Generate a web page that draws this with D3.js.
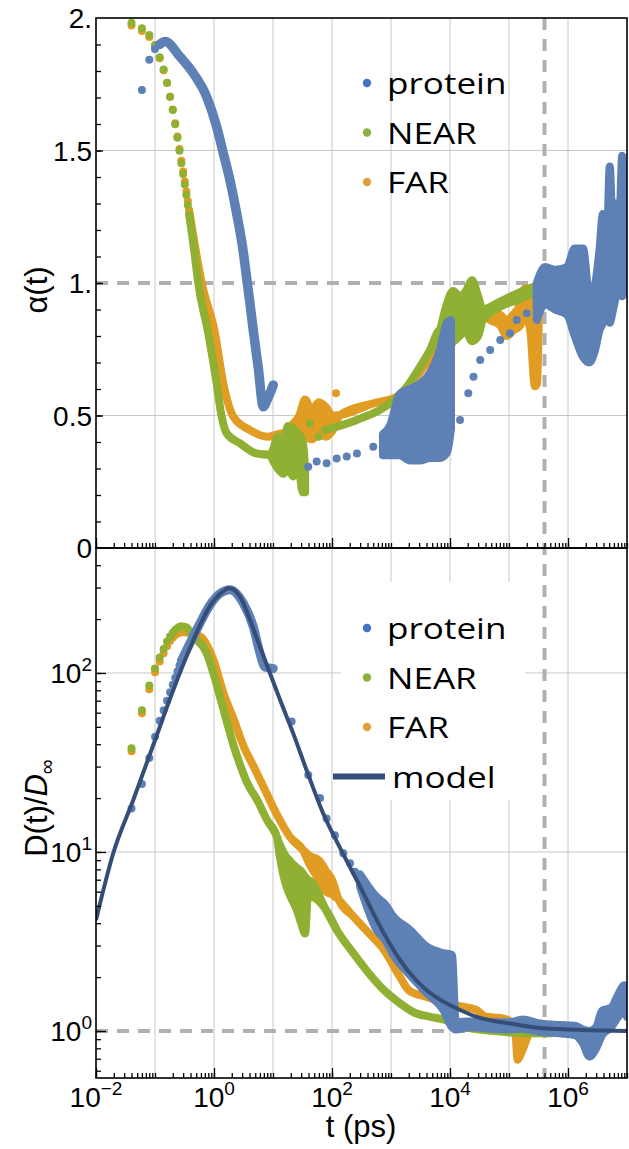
<!DOCTYPE html>
<html>
<head>
<meta charset="utf-8">
<script src="https://cdn.jsdelivr.net/npm/d3@7"></script>
<style>
  body { margin: 0; background: #fff; }
  text { font-family: "Liberation Sans", Arial, sans-serif; fill: #000; }
</style>
</head>
<body>
<svg id="chart" width="629" height="1149"></svg>
<script>
'use strict';

// ---- data: top panel, alpha(t) ----
// early sparse points [t (ps), alpha]
const nearAlphaDots = [[0.04,1.982],[0.06,1.961],[0.08,1.936],[0.10,1.898],[0.12,1.852],[0.14,1.806],[0.16,1.756],[0.18,1.703],[0.20,1.653],[0.22,1.599],[0.24,1.548],[0.26,1.499],[0.28,1.452],[0.30,1.411],[0.32,1.372],[0.34,1.332],[0.36,1.294],[0.38,1.257],[42,0.47],[59,0.42]];
const farAlphaDots = [[0.04,1.972],[0.06,1.951],[0.08,1.928],[0.10,1.892],[0.12,1.848],[0.14,1.803],[0.16,1.755],[0.18,1.703],[0.20,1.655],[0.22,1.603],[0.24,1.553],[0.26,1.506],[0.28,1.461],[0.30,1.421],[0.32,1.383],[0.34,1.345],[0.36,1.309],[0.38,1.274],[117,0.584]];
const proteinAlphaDots = [[0.06,1.728],[0.08,1.842],[0.10,1.883],[39.6,0.307],[55,0.326],[81,0.32],[120,0.338],[178,0.345],[265,0.357],[500,0.382],[14800,0.483],[20400,0.584],[25000,0.646],[32500,0.709],[48000,0.747],[71000,0.785],[104000,0.81],[135000,0.86],[200000,0.886]];

// dense parts [t, value] or [t, low, high]
const nearAlphaA = [[0.38,1.257],[0.46,1.125],[0.54,1.0],[0.8,0.81],[1.11,0.62],[1.35,0.495],[1.64,0.433],[2.75,0.395],[5.2,0.357],[8.9,0.351],[10,0.33,0.37],[12,0.30,0.42],[15,0.28,0.40],[18,0.30,0.46],[22,0.27,0.45],[27,0.30,0.43],[32,0.21,0.40],[35,0.21,0.30]];
const nearAlphaB = [[76,0.445],[263,0.483],[955,0.546],[1860,0.609],[3100,0.684],[4570,0.747],[6760,0.823],[8800,0.80,0.92],[11300,0.78,0.97],[14600,0.80,0.95],[18600,0.82,0.97],[23600,0.78,1.01],[30000,0.80,0.95],[36000,0.86,0.90],[70300,0.91,0.93],[135000,0.935,0.96],[258000,0.96,0.985],[495000,0.98,1.0],[1.07e6,0.995,1.015]];
const farAlphaA = [[0.38,1.274],[0.46,1.16],[0.62,1.0],[1.04,0.81],[1.44,0.62],[2.14,0.495],[4.07,0.445],[7.8,0.42],[14.8,0.433],[20,0.42,0.46],[28,0.41,0.50],[35,0.42,0.56],[45,0.41,0.52],[60,0.43,0.55],[80,0.42,0.53],[100,0.44,0.50],[138,0.502],[500,0.546],[1260,0.571],[3000,0.66],[6000,0.74],[10000,0.76],[14000,0.82],[24000,0.86],[36000,0.88,0.90],[48000,0.86,0.90],[71000,0.84,0.88],[91000,0.80,0.86],[117000,0.82,0.88],[155000,0.84,0.92],[186000,0.88,0.98],[229000,0.82,0.98],[275000,0.61,0.92],[300000,0.62,0.98],[330000,0.95,1.0],[500000,0.99],[1.07e6,1.005]];
const proteinAlphaA = [[0.12,1.90],[0.148,1.911],[0.265,1.854],[0.447,1.791],[0.75,1.703],[1.11,1.59],[1.44,1.489],[1.86,1.389],[2.42,1.263],[3.16,1.112],[3.55,1.024],[4.0,0.936],[4.7,0.81],[5.6,0.684],[6.85,0.533],[8.0,0.56],[10.1,0.615]];
const proteinAlphaB = [[730,0.35,0.43],[955,0.35,0.46],[1400,0.35,0.58],[2090,0.33,0.60],[3100,0.33,0.62],[4570,0.34,0.66],[6760,0.34,0.75],[8900,0.36,0.85],[10400,0.45,0.86]];
const proteinAlphaC = [[295000,0.86,1.0],[410000,0.92,1.06],[600000,0.90,1.05],[960000,0.88,1.06],[1.3e6,0.80,1.13],[1.8e6,0.72,1.13],[2.3e6,0.70,0.95],[2.9e6,0.75,1.0],[3.4e6,0.82,1.12],[3.9e6,0.85,1.26],[4.5e6,0.92,1.10],[5.1e6,0.85,1.44],[5.8e6,0.90,1.16],[6.5e6,0.95,1.30],[7.3e6,1.0,1.18],[8.3e6,0.95,1.48],[9.2e6,1.0,1.26],[1e7,1.0,1.4]];

// ---- data: bottom panel, D(t)/D_inf ----
const nearDDots = [[0.04,38],[0.06,62],[0.08,85],[0.10,106],[0.12,122],[0.14,136],[0.16,150],[0.18,160],[0.20,168],[0.22,174],[0.24,178],[0.26,181],[0.28,182]];
const farDDots = [[0.04,36.5],[0.06,59.5],[0.08,81],[0.10,101],[0.12,116],[0.14,129],[0.16,141],[0.18,151],[0.20,158],[0.22,163],[0.24,166],[0.26,168],[0.28,170]];
const proteinDDots = [[0.04,17.5],[0.06,24],[0.08,33.5],[0.10,44],[0.12,54],[0.14,62],[0.16,70],[0.18,78],[0.20,86],[0.22,94],[0.24,102],[0.26,110],[0.28,117],[20.7,53.5],[39.6,26.9],[62.7,20],[81,15.4],[112,12.4],[155,9.84],[202,8.65],[245,7.76]];

const nearD = [[0.28,182],[0.33,181],[0.447,160],[0.75,129],[0.98,99.5],[1.3,71],[1.69,52],[2.18,38.7],[2.84,30],[3.68,24.2],[5.4,19.5],[7.9,15.1],[11.6,12.2],[13,9.5,11],[16,6.8,9.6],[20,5.6,8.8],[25,4.8,8.2],[30,4.0,7.8],[35,3.5,7.3],[39,5.6,7.0],[45,5.6,6.8],[76,4.85],[130,3.52],[230,2.72],[420,2.1],[760,1.69],[1410,1.43],[2560,1.26],[4660,1.2],[8500,1.15],[15600,1.057],[57000,1.0],[210000,0.97],[520000,0.97]];
const farD = [[0.28,170],[0.58,160],[0.98,118],[1.45,77],[2.18,54.6],[3.2,38.7],[4.7,30],[6.85,23.2],[11.4,16.4],[19.2,12.2],[32,10.3],[42,8.5,9.5],[60,7.0,9.0],[80,6.0,7.8],[100,5.8,7.0],[130,5.4],[230,4.36],[420,3.52],[760,2.84],[1410,2.01],[2000,1.69],[4000,1.55],[8500,1.43],[15600,1.37],[28000,1.31],[40000,1.2],[75000,1.18],[120000,1.1],[130000,0.93,1.12],[140000,0.69,1.1],[160000,0.75,1.05],[250000,1.02],[520000,1.0]];
const proteinDA = [[0.28,117],[0.58,190],[0.855,240],[1.26,278],[1.87,292],[3.14,245],[4.64,181],[6.0,129],[7.3,108],[10.1,106]];
const proteinDB = [[300,6.4,7.5],[573,3.67,5.6],[810,3.2,5.06],[1100,2.66,4.35],[2100,2.05,3.67],[4030,1.63,2.96],[7700,1.31,2.72],[10800,1.05,2.66],[12500,1.02,1.12],[21600,1.05,1.13],[47000,1.03,1.12],[104000,1.02,1.12],[170000,1.03,1.16],[330000,0.99,1.1],[710000,0.97,1.08],[1.3e6,0.95,1.07],[1.8e6,0.85,1.02],[2.3e6,0.72,1.0],[3e6,0.8,1.05],[3.8e6,0.95,1.3],[5.4e6,1.05,1.35],[7.1e6,1.2,1.6],[9e6,1.3,1.8],[1e7,1.2,1.5]];

const model = [[0.01,4.17],[0.0196,9.84],[0.0428,19.5],[0.0935,39.6],[0.204,80.4],[0.392,138],[0.58,185],[0.855,237],[1.26,276],[1.8,297],[2.76,267],[4.07,198],[6.0,140],[8.9,99.5],[13.2,70.6],[22,46],[37,28.7],[71,16.4],[146,10.1],[300,6.4],[573,4.17],[1100,2.84],[2100,2.1],[4030,1.69],[7700,1.46],[14800,1.31],[28200,1.2],[104000,1.1],[380000,1.035],[1e7,1.0]];

// ticks and labels
const xMajor = [1e-2, 1, 1e2, 1e4, 1e6];
const xMajorExp = ['\u22122', '0', '2', '4', '6'];
const alphaLabels = [[0,'0'],[0.5,'0.5'],[1,'1.'],[1.5,'1.5'],[2,'2.']];
const dMajor = [1, 10, 100];
const dMajorExp = ['0', '1', '2'];
const tMarker = 4e5;
const legendTop = ['protein', 'NEAR', 'FAR'];
const legendBottom = ['protein', 'NEAR', 'FAR', 'model'];

// colours
const C_PROTEIN = '#5e81b5';
const C_NEAR = '#8fb032';
const C_FAR = '#e19c24';
const C_MODEL = '#344e78';
const legendColors = ['#4472c4', '#8bb23b', '#e0a03a'];

const svg = d3.select('#chart');
const L = 96, R = 627, T1 = 18, B1 = 548, T2 = 548, B2 = 1078;

const x = d3.scaleLog().domain([1e-2, 1e7]).range([L, R]);
const yA = d3.scaleLinear().domain([0, 2]).range([B1, T1]);
const yD = d3.scaleLog().domain([0.5462, 499]).range([B2, T2]);

const defs = svg.append('defs');
defs.append('clipPath').attr('id', 'clipTop').append('rect')
  .attr('x', L).attr('y', T1).attr('width', R - L).attr('height', B1 - T1);
defs.append('clipPath').attr('id', 'clipBot').append('rect')
  .attr('x', L).attr('y', T2).attr('width', R - L).attr('height', B2 - T2);

// grid
const grid = svg.append('g').attr('stroke', '#c8c8c8').attr('stroke-width', 1);
const decades = d3.range(-1, 7).map(e => Math.pow(10, e));
grid.selectAll('line.v').data(decades).join('line')
  .attr('x1', d => x(d)).attr('x2', d => x(d)).attr('y1', T1).attr('y2', B2);
grid.selectAll('line.ha').data([0.5, 1.5]).join('line').attr('class', 'ha')
  .attr('x1', L).attr('x2', R).attr('y1', d => yA(d)).attr('y2', d => yA(d));
grid.selectAll('line.hd').data([10, 100]).join('line').attr('class', 'hd')
  .attr('x1', L).attr('x2', R).attr('y1', d => yD(d)).attr('y2', d => yD(d));

// bottom legend background hides the grid
svg.append('rect').attr('x', 341).attr('y', 582).attr('width', 184).attr('height', 218).attr('fill', '#fff');

// dashed reference lines
const dash = svg.append('g').attr('stroke', '#b0b0b0').attr('stroke-width', 4).attr('stroke-dasharray', '12,9');
dash.append('line').attr('x1', L).attr('x2', R).attr('y1', yA(1)).attr('y2', yA(1));
dash.append('line').attr('x1', L).attr('x2', R).attr('y1', yD(1)).attr('y2', yD(1));
dash.append('line').attr('x1', x(tMarker)).attr('x2', x(tMarker)).attr('y1', T1).attr('y2', B2);

// series helpers
const drawBand = (g, data, y, color, w = 8) => {
  const area = d3.area()
    .x(d => x(d[0]))
    .y0(d => y(d[1]))
    .y1(d => y(d.length > 2 ? d[2] : d[1]))
    .curve(d3.curveMonotoneX);
  g.append('path').datum(data).attr('d', area)
    .attr('fill', color).attr('stroke', color)
    .attr('stroke-width', w).attr('stroke-linejoin', 'round').attr('stroke-linecap', 'round');
};
const drawDots = (g, data, y, color) => {
  g.append('g').selectAll('circle').data(data).join('circle')
    .attr('cx', d => x(d[0])).attr('cy', d => y(d[1])).attr('r', 4).attr('fill', color);
};

// top panel data
const topG = svg.append('g').attr('clip-path', 'url(#clipTop)');
drawDots(topG, farAlphaDots, yA, C_FAR);
drawBand(topG, farAlphaA, yA, C_FAR);
drawDots(topG, nearAlphaDots, yA, C_NEAR);
drawBand(topG, nearAlphaA, yA, C_NEAR);
drawBand(topG, nearAlphaB, yA, C_NEAR);
drawDots(topG, proteinAlphaDots, yA, C_PROTEIN);
drawBand(topG, proteinAlphaA, yA, C_PROTEIN, 9.5);
drawBand(topG, proteinAlphaB, yA, C_PROTEIN);
drawBand(topG, proteinAlphaC, yA, C_PROTEIN);

// bottom panel data
const botG = svg.append('g').attr('clip-path', 'url(#clipBot)');
drawDots(botG, farDDots, yD, C_FAR);
drawBand(botG, farD, yD, C_FAR);
drawDots(botG, nearDDots, yD, C_NEAR);
drawBand(botG, nearD, yD, C_NEAR);
drawDots(botG, proteinDDots, yD, C_PROTEIN);
drawBand(botG, proteinDA, yD, C_PROTEIN, 9);
drawBand(botG, proteinDB, yD, C_PROTEIN);
botG.append('path').datum(model)
  .attr('d', d3.line().x(d => x(d[0])).y(d => yD(d[1])).curve(d3.curveMonotoneX))
  .attr('fill', 'none').attr('stroke', C_MODEL).attr('stroke-width', 4);

// axes (ticks only, inward)
const tickAxis = (axis, tr) => {
  const g = svg.append('g').attr('transform', tr).call(axis);
  g.select('.domain').remove();
  g.selectAll('.tick line').attr('stroke', '#000').attr('stroke-width', 1.3);
  g.selectAll('.tick text').remove();
};
const xAll = x.ticks(30);
[B1, B2].forEach(yy => {
  tickAxis(d3.axisBottom(x).tickValues(xAll).tickSize(-5), `translate(0,${yy})`);
  tickAxis(d3.axisBottom(x).tickValues(xMajor).tickSize(-10), `translate(0,${yy})`);
});
tickAxis(d3.axisLeft(yA).tickValues(d3.range(1, 20).map(i => i / 10)).tickSize(-5), `translate(${L},0)`);
tickAxis(d3.axisLeft(yA).tickValues([0.5, 1, 1.5]).tickSize(-7), `translate(${L},0)`);
tickAxis(d3.axisLeft(yD).tickValues(yD.ticks(30).filter(v => v < 499)).tickSize(-5), `translate(${L},0)`);
tickAxis(d3.axisLeft(yD).tickValues(dMajor).tickSize(-10), `translate(${L},0)`);

// frame
const frame = svg.append('g').attr('stroke', '#000').attr('stroke-width', 1.6).attr('fill', 'none');
frame.append('rect').attr('x', L).attr('y', T1).attr('width', R - L).attr('height', B1 - T1);
frame.append('rect').attr('x', L).attr('y', T2).attr('width', R - L).attr('height', B2 - T2);

// tick labels
svg.append('g').selectAll('text').data(alphaLabels).join('text')
  .attr('x', 92).attr('y', d => yA(d[0]) + 10)
  .attr('text-anchor', 'end').attr('font-size', 28)
  .text(d => d[1]);

const powLabel = (g, base, exp) => {
  g.append('tspan').text(base);
  g.append('tspan').attr('dy', -12).attr('font-size', 19).text(exp);
};
xMajor.forEach((v, i) => {
  const t = svg.append('text').attr('x', x(v)).attr('y', 1107)
    .attr('text-anchor', 'middle').attr('font-size', 28);
  powLabel(t, '10', xMajorExp[i]);
});
dMajor.forEach((v, i) => {
  const t = svg.append('text').attr('x', 92).attr('y', yD(v) + 10)
    .attr('text-anchor', 'end').attr('font-size', 28);
  powLabel(t, '10', dMajorExp[i]);
});

// axis titles
svg.append('text').attr('x', 361).attr('y', 1137).attr('text-anchor', 'middle')
  .attr('font-size', 31).text('t (ps)');
svg.append('text').attr('transform', 'translate(47,290) rotate(-90)')
  .attr('text-anchor', 'middle').attr('font-size', 31).text('\u03b1(t)');
const dTitle = svg.append('text').attr('transform', 'translate(47,808) rotate(-90)')
  .attr('text-anchor', 'middle').attr('font-size', 31);
dTitle.append('tspan').text('D(t)/');
dTitle.append('tspan').attr('font-style', 'italic').text('D');
dTitle.append('tspan').attr('dy', 7).attr('font-size', 21).text('\u221e');

// legends
const legFont = '"Open Sans", sans-serif';
const legTop = svg.append('g');
legendTop.forEach((name, i) => {
  const cy = 83 + i * 49.5;
  legTop.append('circle').attr('cx', 367).attr('cy', cy).attr('r', 4.2).attr('fill', legendColors[i]);
  legTop.append('text').attr('transform', `translate(387,${cy + 11}) scale(1.17,1)`)
    .style('font-family', legFont).attr('font-size', 30).text(name);
});
const legBot = svg.append('g');
legendBottom.forEach((name, i) => {
  const cy = 628 + i * 49.5;
  if (i < 3) {
    legBot.append('circle').attr('cx', 367).attr('cy', cy).attr('r', 4.2).attr('fill', legendColors[i]);
  } else {
    legBot.append('line').attr('x1', 333).attr('x2', 385).attr('y1', cy).attr('y2', cy)
      .attr('stroke', C_MODEL).attr('stroke-width', 6);
  }
  legBot.append('text').attr('transform', `translate(${i < 3 ? 387 : 392},${cy + 11}) scale(1.17,1)`)
    .style('font-family', legFont).attr('font-size', 30).text(name);
});
</script>
</body>
</html>
